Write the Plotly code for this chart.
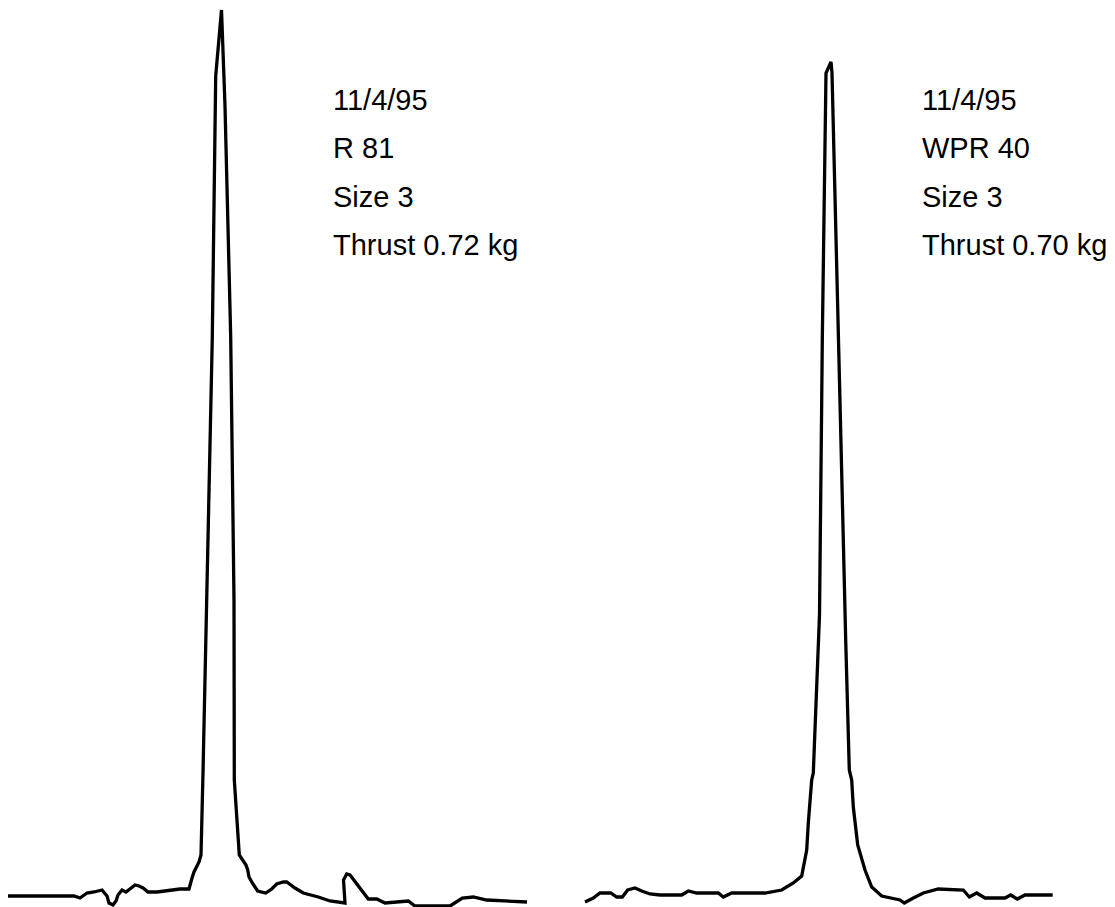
import plotly.graph_objects as go

# Left trace (R 81): sample position and force reading (arbitrary units)
left_t = [8, 74, 80, 87, 94, 102, 107, 109, 113, 116, 118, 122, 126, 130, 135, 139, 143, 148, 157, 180,
          189, 192, 194, 199, 201, 203, 206.5, 210.5, 212.3, 215.7, 221.5,
          225, 230.7, 234, 234.3, 238.3, 239.3, 246, 247.7, 249, 252.3, 257.7, 265.7, 271.7, 276.7,
          283.3, 286.7, 295, 303.3, 318.3, 330, 345, 343.5, 346.7, 350, 368.3, 376.7, 385, 408.3,
          415, 450, 462.3, 473.3, 486.7, 506.7, 527]
left_f = [0, 0, -2, 3, 4, 6, 0, -7, -9, -5, 1, 6, 4, 7, 11, 10, 8, 4, 4, 7,
          7, 18, 24, 34, 41, 123, 281, 441, 559, 820, 886,
          790, 559, 296, 116, 56, 41, 31, 26, 19, 13, 5, 3, 7, 12,
          14, 14, 8, 3, -1, -5, -7, 16, 22, 21, -3, -3, -7, -5,
          -10, -10, -2, -1, -4, -5, -6]

# Right trace (WPR 40)
right_t = [585, 593.3, 600, 610.7, 616.7, 622.3, 627.7, 635, 641.7, 650, 660, 681.7, 688.3, 696.7,
           718.3, 723.3, 731.7, 765, 781.7, 793.3, 801.7, 806.7, 808.3, 811.7, 813.3, 819.5, 821.7,
           822.3, 826, 831, 832, 839, 840, 845.7, 849.3, 851.7, 853.3, 857.7, 865, 871.7, 881.7,
           900, 904.3, 913.3, 923.3, 938.3, 963.3, 969.3, 976.7, 985, 1005, 1010.7, 1017.3, 1025, 1052.7]
right_f = [-6, -2, 3, 3, -1, -1, 6, 8, 5, 2, 1, 1, 5, 3,
           3, -1, 3, 3, 6, 13, 20, 46, 73, 116, 123, 281, 494,
           556, 823, 834, 823, 556, 494, 256, 126, 116, 89, 51, 26, 9, 0,
           -4, -7, -2, 3, 7, 6, -1, 3, -2, -2, 1, -3, 1, 1]

left_labels = ["11/4/95", "R 81", "Size 3", "Thrust 0.72 kg"]
right_labels = ["11/4/95", "WPR 40", "Size 3", "Thrust 0.70 kg"]
label_rows_px = [100, 148, 197, 245]

W, H = 1115, 907
PAD = 8  # page body margin offset

fig = go.Figure()
for t, f in ((left_t, left_f), (right_t, right_f)):
    fig.add_trace(go.Scatter(x=t, y=f, mode="lines",
                             line=dict(color="black", width=3.3),
                             hoverinfo="skip", showlegend=False))

for labels, xpx in ((left_labels, 331), (right_labels, 920)):
    for txt, ypx in zip(labels, label_rows_px):
        fig.add_annotation(x=(xpx - PAD) / W, y=1 - (ypx - PAD) / H, xref="paper", yref="paper",
                           text=txt, showarrow=False, xanchor="left", yanchor="middle",
                           font=dict(family="Liberation Sans, Arial, sans-serif", size=29, color="black"))

fig.update_layout(
    width=W, height=H,
    margin=dict(l=0, r=0, t=0, b=0),
    paper_bgcolor="white", plot_bgcolor="white",
    xaxis=dict(range=[PAD, W + PAD], visible=False, fixedrange=True),
    yaxis=dict(range=[896 - PAD - H, 896 - PAD], visible=False, fixedrange=True),
)

fig.write_html("out.html")
